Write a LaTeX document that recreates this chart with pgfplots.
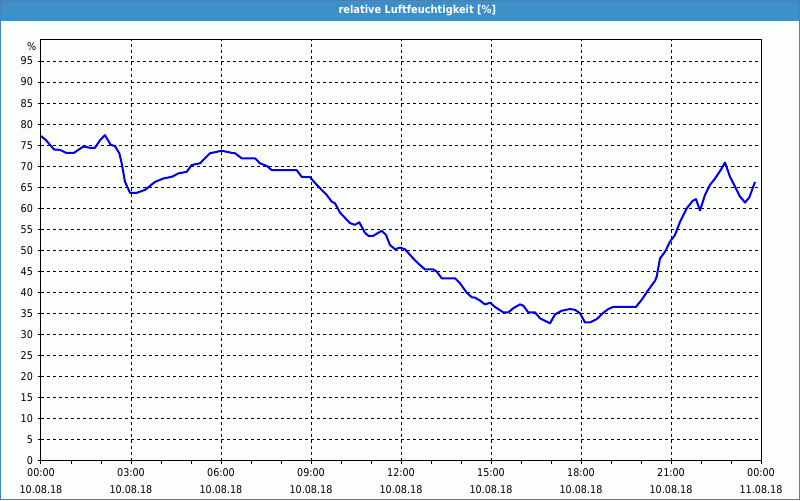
\documentclass[border=0pt]{standalone}
\usepackage{pgfplots}
\pgfplotsset{compat=1.18}
\usepackage{fontspec}
\setmainfont{DejaVu Sans Condensed}
\definecolor{titlecol}{RGB}{60,144,199}
\definecolor{bordercol}{RGB}{70,130,180}
\definecolor{bgcol}{RGB}{252,254,252}
\definecolor{linecol}{RGB}{0,0,230}
\begin{document}
\begin{tikzpicture}
\path[use as bounding box] (0,0) rectangle (600pt,375pt);
\fill[bgcol] (0,0) rectangle (600pt,375pt);
\fill[titlecol] (0,359.5pt) rectangle (600pt,375pt);
\draw[bordercol, line width=0.75pt] (0.375pt,0.375pt) rectangle (599.625pt,374.625pt);
\node[white, font=\fontsize{8.2}{10}\selectfont\bfseries, inner sep=0pt] at (313pt,367.3pt) {relative Luftfeuchtigkeit [\%]};
\begin{axis}[
  name=ax,
  scale only axis,
  width=540pt, height=315.75pt,
  at={(30.75pt,29.25pt)}, anchor=south west,
  xmin=0, xmax=24, ymin=0, ymax=100,
  axis line style={black, line width=0.75pt},
  xtick={0,3,...,24},
  minor xtick={1,2,4,5,7,8,10,11,13,14,16,17,19,20,22,23},
  xticklabels={{00:00\\[3pt]10.08.18},{03:00\\[3pt]10.08.18},{06:00\\[3pt]10.08.18},{09:00\\[3pt]10.08.18},{12:00\\[3pt]10.08.18},{15:00\\[3pt]10.08.18},{18:00\\[3pt]10.08.18},{21:00\\[3pt]10.08.18},{00:00\\[3pt]11.08.18}},
  ytick={0,5,...,95},
  tick pos=left,
  tick align=outside,
  major tick length=2.5pt,
  minor tick length=2pt,
  tick style={black, line width=0.75pt},
  grid=major,
  major grid style={black, line width=0.75pt, dash pattern=on 2.25pt off 2.25pt},
  /pgf/number format/assume math mode=true,
  ticklabel style={font=\fontsize{8}{9.6}\selectfont, text=black},
  xticklabel style={align=center, yshift=0pt},
  yticklabel style={xshift=0pt},
]
\addplot[linecol, line width=1.5pt, line join=round] table {
0.000 77.2
0.167 76.2
0.433 74.0
0.633 73.9
0.833 73.2
1.100 73.2
1.410 74.7
1.633 74.4
1.800 74.4
1.967 76.2
2.133 77.4
2.323 75.1
2.467 74.8
2.610 73.1
2.690 70.7
2.800 66.3
2.967 63.7
3.190 63.7
3.467 64.4
3.800 66.3
4.077 67.1
4.357 67.5
4.577 68.3
4.857 68.7
5.023 70.3
5.300 70.7
5.633 73.1
6.023 73.7
6.357 73.2
6.467 73.1
6.690 71.9
7.133 71.9
7.300 70.7
7.523 70.1
7.690 69.1
8.523 69.1
8.690 67.5
8.967 67.4
9.190 65.6
9.523 63.2
9.690 61.6
9.800 61.2
9.967 59.0
10.300 56.5
10.467 56.1
10.610 56.7
10.800 54.2
10.910 53.5
11.077 53.5
11.357 54.7
11.500 53.7
11.633 51.3
11.800 50.3
11.967 50.7
12.133 50.3
12.410 48.1
12.577 46.9
12.800 45.5
13.077 45.5
13.190 45.0
13.357 43.4
13.800 43.4
13.967 42.2
14.190 40.0
14.357 38.9
14.467 38.8
14.633 38.1
14.800 37.2
14.967 37.6
15.133 36.6
15.410 35.3
15.577 35.3
15.743 36.3
15.967 37.2
16.077 36.9
16.243 35.3
16.467 35.3
16.633 33.9
16.800 33.3
16.967 32.7
17.133 34.8
17.357 35.7
17.633 36.1
17.800 35.9
17.967 35.1
18.133 32.9
18.300 32.9
18.523 33.7
18.743 35.2
18.910 36.1
19.077 36.6
19.833 36.6
20.023 38.3
20.243 40.6
20.467 42.8
20.523 43.8
20.633 48.1
20.800 49.7
20.967 52.1
21.133 53.7
21.300 56.8
21.523 60.0
21.723 61.8
21.833 62.2
21.967 59.5
22.133 63.2
22.300 65.6
22.467 67.1
22.657 69.1
22.800 70.9
22.967 67.5
23.133 65.2
23.300 62.8
23.467 61.4
23.610 62.6
23.800 66.3
};
\end{axis}
\node[anchor=north east, inner sep=0pt, text=black, font=\fontsize{8}{9.6}\selectfont] at ([xshift=-3.3pt, yshift=-1.5pt]ax.north west) {\%};
\end{tikzpicture}
\end{document}
